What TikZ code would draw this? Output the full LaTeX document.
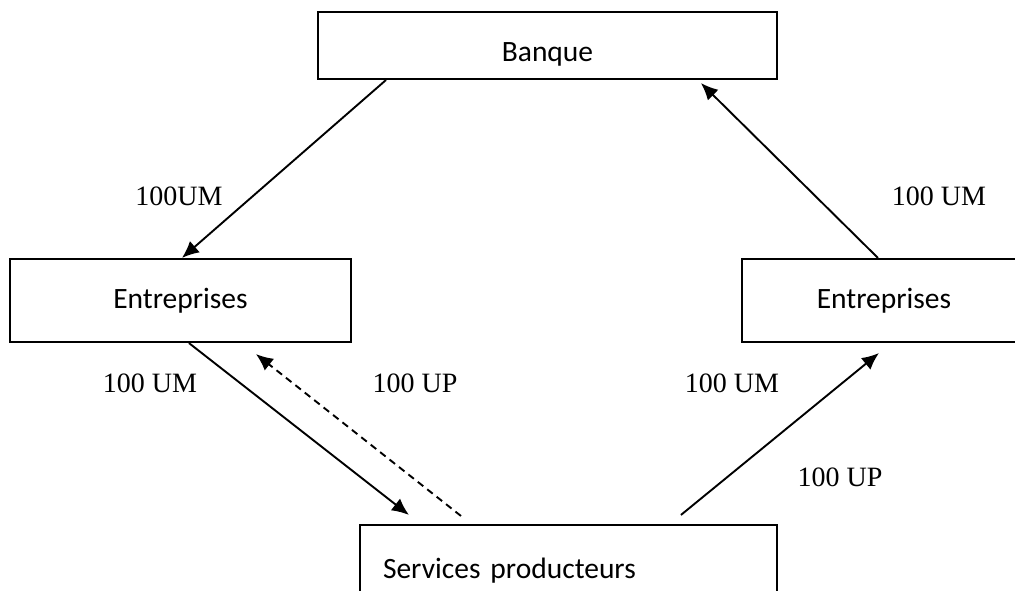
\documentclass[tikz,border=0pt]{standalone}
\usepackage{fontspec}
\setmainfont{Liberation Serif}
\newfontfamily\boxfont{Carlito}
\usetikzlibrary{arrows.meta}
\tikzset{
  boxnode/.style={draw=black, line width=2.1pt, rectangle, inner sep=0pt, fill=white,
    font=\boxfont\fontsize{29.5}{35}\selectfont, text height=15pt, text depth=0pt},
  flowlbl/.style={inner sep=0pt, font=\fontsize{28}{33}\selectfont},
  flow/.style={line width=1.9pt, -{Latex[length=17pt,width=15pt]}},
  flowdash/.style={flow, dash pattern=on 7pt off 5pt}
}
\begin{document}
\begin{tikzpicture}[x=1pt,y=-1pt]
\useasboundingbox (0,0) rectangle (1015,591);
\clip (0,0) rectangle (1015,591);
\fill[white] (0,0) rectangle (1015,591);
% boxes
\node[boxnode, minimum width=459pt, minimum height=67pt, text height=33pt] (banque) at (547.5,45.5) {Banque};
\node[boxnode, minimum width=341pt, minimum height=83pt] (entL) at (180.5,300.5) {Entreprises};
\node[boxnode, minimum width=284pt, minimum height=83pt] (entR) at (884,300.5) {Entreprises};
\node[boxnode, minimum width=417pt, minimum height=83pt, text width=371pt, align=left, inner xsep=23pt, text height=24pt] (serv) at (568.5,566.5) {Services producteurs};
% labels
\node[flowlbl] (l1) at (179,196) {100UM};
\node[flowlbl] (l2) at (939,196) {100 UM};
\node[flowlbl] (l3) at (150,383) {100 UM};
\node[flowlbl] (l4) at (415,383) {100 UP};
\node[flowlbl] (l5) at (732,383) {100 UM};
\node[flowlbl] (l6) at (840,477) {100 UP};
% connectors
\draw[flow] ([xshift=69pt]banque.south west) -- ([xshift=173pt]entL.north west);
\draw[flow] ([xshift=180pt]entL.south west) -- ([xshift=50pt,yshift=9pt]serv.north west);
\draw[flowdash] ([xshift=102pt,yshift=8pt]serv.north west) -- ([xshift=247pt,yshift=-11pt]entL.south west);
\draw[flow] ([xshift=322pt,yshift=9pt]serv.north west) -- ([xshift=138pt,yshift=-10pt]entR.south west);
\draw[flow] ([xshift=137pt]entR.north west) -- ([xshift=384pt,yshift=-3pt]banque.south west);
\end{tikzpicture}
\end{document}
